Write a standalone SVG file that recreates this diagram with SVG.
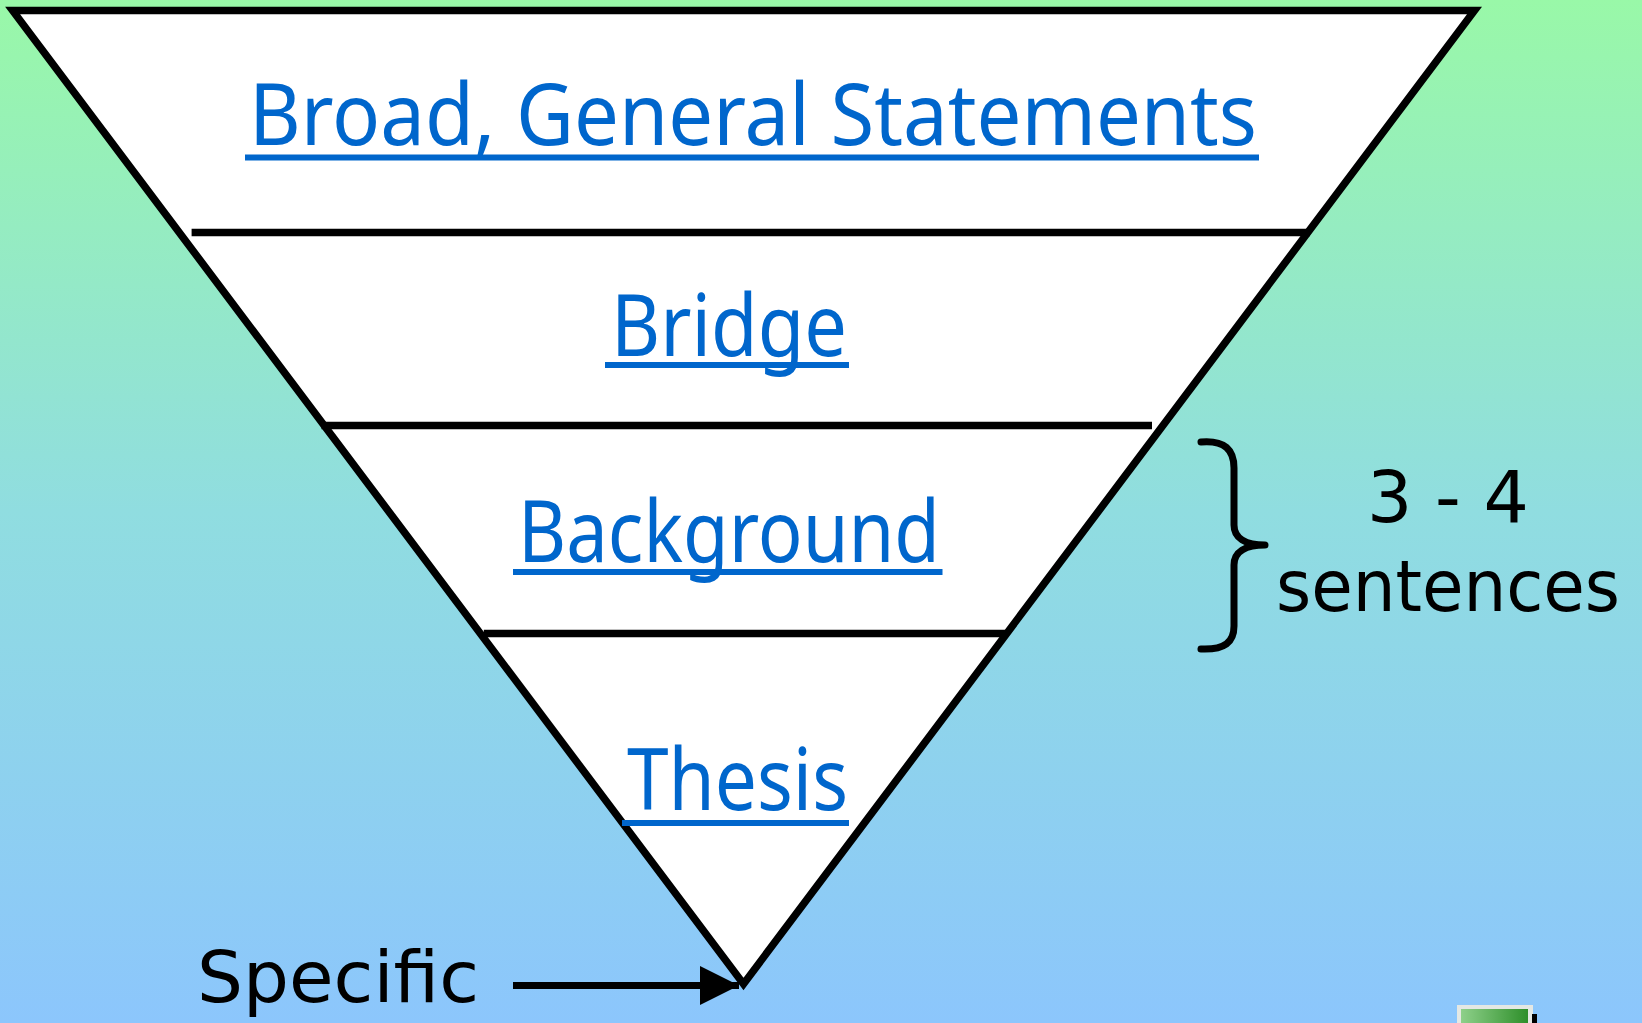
<svg xmlns="http://www.w3.org/2000/svg" width="1642" height="1023" viewBox="0 0 1642 1023">
<defs>
<linearGradient id="bg" x1="0" y1="0" x2="0" y2="1">
<stop offset="0" stop-color="#99F8A8"/>
<stop offset="0.5" stop-color="#90DDE0"/>
<stop offset="1" stop-color="#8CC6FC"/>
</linearGradient>
<linearGradient id="btn" x1="0" y1="0" x2="1" y2="0">
<stop offset="0" stop-color="#8ED08A"/>
<stop offset="1" stop-color="#2E8F2A"/>
</linearGradient>
<marker id="arrow" viewBox="0 0 10 10" refX="10" refY="5" markerWidth="5.6" markerHeight="5.6" markerUnits="strokeWidth" orient="auto">
<path d="M0,0 L10,5 L0,10 Z" fill="#000"/>
</marker>
<style>
.edge{stroke:#000;stroke-width:7.5;fill:none}
.lbl{font-family:"Noto Sans","DejaVu Sans",sans-serif;fill:#0066CC;font-size:86px}
.ul{stroke:#0066CC;stroke-width:6}
.blk{font-family:"DejaVu Sans","Noto Sans",sans-serif;fill:#000;font-size:72px}
</style>
</defs>
<rect x="0" y="0" width="1642" height="1023" fill="url(#bg)"/>
<g id="funnel">
<polygon points="12.6,10.5 1474.5,10.5 743.5,984" fill="#fff" stroke="#000" stroke-width="7.5"/>
<line class="edge" x1="191.6" y1="232.5" x2="1310" y2="232.5"/>
<line class="edge" x1="321.5" y1="425.5" x2="1152" y2="425.5"/>
<line class="edge" x1="483.8" y1="633.5" x2="1005" y2="633.5"/>
</g>
<g id="node-broad">
<text class="lbl" x="249" y="144.5" textLength="1008" lengthAdjust="spacingAndGlyphs">Broad, General Statements</text>
<line class="ul" x1="245" y1="157.5" x2="1259" y2="157.5"/>
</g>
<g id="node-bridge">
<text class="lbl" x="611" y="356" textLength="236" lengthAdjust="spacingAndGlyphs">Bridge</text>
<line class="ul" x1="605" y1="365" x2="849" y2="365"/>
</g>
<g id="node-background">
<text class="lbl" x="518" y="562" textLength="422" lengthAdjust="spacingAndGlyphs">Background</text>
<line class="ul" x1="513" y1="572" x2="942.5" y2="572"/>
</g>
<g id="node-thesis">
<text class="lbl" x="627" y="810" textLength="221" lengthAdjust="spacingAndGlyphs">Thesis</text>
<line class="ul" x1="622" y1="823" x2="849" y2="823"/>
</g>
<g id="node-sentences">
<path d="M1201,442 C1225,440 1234,450 1234,468 L1234,525 C1234,538 1245,545 1265,545 C1245,545 1234,552 1234,565 L1234,626 C1234,642 1225,650 1201,649" fill="none" stroke="#000" stroke-width="7" stroke-linecap="round" stroke-linejoin="round"/>
<text class="blk" x="1367" y="521.5" textLength="162" lengthAdjust="spacingAndGlyphs">3 - 4</text>
<text class="blk" x="1276" y="610.5" textLength="344" lengthAdjust="spacingAndGlyphs">sentences</text>
</g>
<g id="node-specific">
<text class="blk" x="197" y="1002" textLength="282" lengthAdjust="spacingAndGlyphs" font-size="76">Specific</text>
</g>
<g id="connectors">
<line x1="513" y1="985.5" x2="739" y2="985.5" stroke="#000" stroke-width="7" marker-end="url(#arrow)"/>
</g>
<g id="icon">
<rect x="1457" y="1005" width="76" height="22" fill="#E4E8E4"/>
<rect x="1461" y="1009" width="67" height="18" fill="url(#btn)"/>
<rect x="1532" y="1014" width="5" height="10" fill="#000"/>
</g>
</svg>
